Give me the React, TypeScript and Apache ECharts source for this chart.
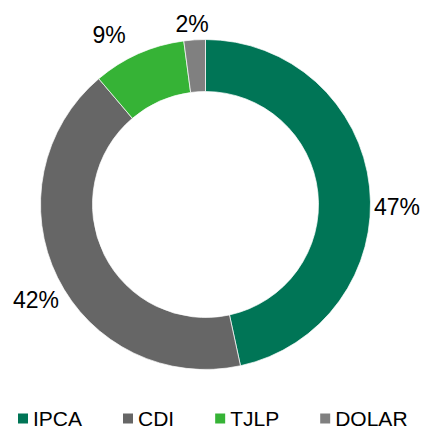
import React, { useEffect, useRef } from "react";
import * as echarts from "echarts";

const categories = ["IPCA", "CDI", "TJLP", "DOLAR"];
const values = [46.6, 42.2, 9.1, 2.1];
const colors = ["#007556", "#666666", "#36B336", "#808080"];
const labelPositions: [number, number][] = [
  [397, 207],
  [36, 300],
  [109, 35],
  [192, 24],
];

export default function App() {
  const ref = useRef<HTMLDivElement>(null);
  useEffect(() => {
    if (!ref.current) return;
    const chart = echarts.init(ref.current, null, { renderer: "svg" });
    chart.setOption({
      animation: false,
      backgroundColor: "#ffffff",
      textStyle: { fontFamily: "Arial, 'Liberation Sans', sans-serif" },
      color: colors,
      legend: {
        data: categories,
        left: 18,
        top: 408,
        padding: 0,
        icon: "rect",
        itemWidth: 10,
        itemHeight: 10,
        itemGap: 41,
        itemStyle: { borderWidth: 0 },
        textStyle: { fontSize: 21, color: "#000000", fontFamily: "Arial, 'Liberation Sans', sans-serif" },
      },
      series: [
        {
          type: "pie",
          center: [205.5, 204.5],
          radius: [113, 165],
          startAngle: 90,
          clockwise: true,
          avoidLabelOverlap: false,
          itemStyle: { borderColor: "#ffffff", borderWidth: 0.7 },
          label: {
            show: true,
            position: "outside",
            fontSize: 23,
            color: "#000000",
            fontFamily: "Arial, 'Liberation Sans', sans-serif",
            formatter: (p: any) => Math.round(p.value) + "%",
          },
          labelLine: { show: false, length: 10, length2: 0 },
          labelLayout: (p: any) => {
            const pos = labelPositions[p.dataIndex];
            return { x: pos[0], y: pos[1], align: "center", verticalAlign: "middle" };
          },
          emphasis: { disabled: true },
          data: categories.map((c, i) => ({ name: c, value: values[i] })),
        },
      ],
    });
    return () => chart.dispose();
  }, []);
  return (
    <div
      ref={ref}
      style={{ position: "fixed", left: 0, top: 0, width: 425, height: 430 }}
    />
  );
}
